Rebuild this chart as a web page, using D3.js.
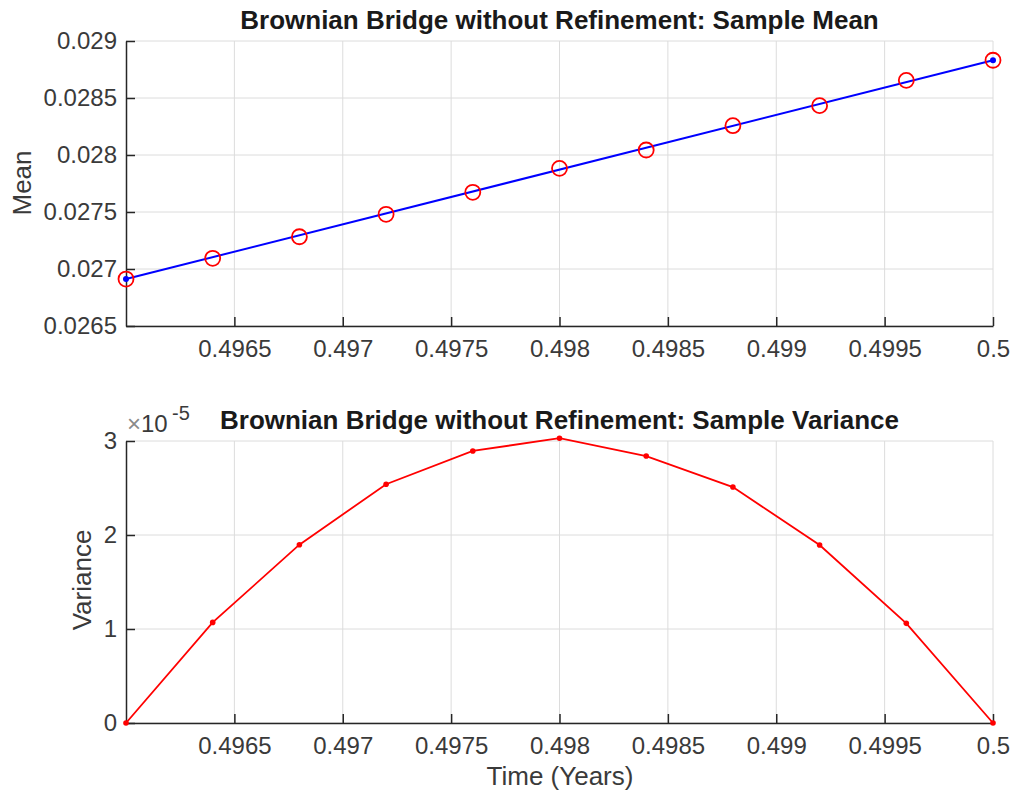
<!DOCTYPE html>
<html>
<head>
<meta charset="utf-8">
<script src="https://cdn.jsdelivr.net/npm/d3@7"></script>
<style>
  html, body { margin: 0; padding: 0; background: #fff; }
  svg { display: block; font-family: "Liberation Sans", Arial, Helvetica, sans-serif; }
</style>
</head>
<body>
<svg id="chart" width="1013" height="791"></svg>
<script>
// ---- data ----
const times = [0.496, 0.4964, 0.4968, 0.4972, 0.4976, 0.498, 0.4984, 0.4988, 0.4992, 0.4996, 0.5];
const sampleMean = [0.026912, 0.027094, 0.027283, 0.02748, 0.027673, 0.027883, 0.028044, 0.028257, 0.028433, 0.028655, 0.028831];
const bridgeEndTimes = [0.496, 0.5];
const bridgeEndMeans = [0.026912, 0.028831];
const sampleVariance = [0, 1.07e-5, 1.897e-5, 2.54e-5, 2.894e-5, 3.03e-5, 2.84e-5, 2.51e-5, 1.894e-5, 1.06e-5, 0];
const xTicks = [0.4965, 0.497, 0.4975, 0.498, 0.4985, 0.499, 0.4995, 0.5];
const xTickLabels = ["0.4965", "0.497", "0.4975", "0.498", "0.4985", "0.499", "0.4995", "0.5"];
const meanTicks = [0.0265, 0.027, 0.0275, 0.028, 0.0285, 0.029];
const meanTickLabels = ["0.0265", "0.027", "0.0275", "0.028", "0.0285", "0.029"];
const varTicks = [0, 1e-5, 2e-5, 3e-5];
const varTickLabels = ["0", "1", "2", "3"];

const svg = d3.select("#chart");
const axisColor = "#262626";
const gridColor = "#dcdcdc";
const textColor = "#3a3a3a";
const tickFont = 24;
const labelFont = 26;

const left = 126, right = 993;

function panel(top, bottom, yDomain, yTicks, yTickLabels, title) {
  const x = d3.scaleLinear().domain([0.496, 0.5]).range([left, right]);
  const y = d3.scaleLinear().domain(yDomain).range([bottom, top]);
  const g = svg.append("g");
  // grid
  g.append("g").selectAll("line").data(xTicks).join("line")
    .attr("x1", d => x(d)).attr("x2", d => x(d)).attr("y1", top).attr("y2", bottom)
    .attr("stroke", gridColor).attr("stroke-width", 1);
  g.append("g").selectAll("line").data(yTicks).join("line")
    .attr("x1", left).attr("x2", right).attr("y1", d => y(d)).attr("y2", d => y(d))
    .attr("stroke", gridColor).attr("stroke-width", 1);

  // axes
  const xAxis = d3.axisBottom(x).tickValues(xTicks).tickFormat((d, i) => xTickLabels[i])
    .tickSizeInner(-9).tickSizeOuter(0).tickPadding(14);
  const xa = g.append("g").attr("transform", `translate(0,${bottom})`).call(xAxis);
  const yAxis = d3.axisLeft(y).tickValues(yTicks).tickFormat((d, i) => yTickLabels[i])
    .tickSizeInner(-9).tickSizeOuter(0).tickPadding(9);
  const ya = g.append("g").attr("transform", `translate(${left},0)`).call(yAxis);
  [xa, ya].forEach(a => {
    a.select(".domain").attr("stroke", axisColor).attr("stroke-width", 1.5);
    a.selectAll(".tick line").attr("stroke", axisColor).attr("stroke-width", 1.5);
    a.selectAll(".tick text").attr("fill", textColor).attr("font-size", tickFont)
      .attr("font-family", "Liberation Sans, Arial, sans-serif");
  });

  // title
  g.append("text").attr("x", (left + right) / 2).attr("y", top - 12)
    .attr("text-anchor", "middle").attr("font-weight", "bold").attr("font-size", labelFont)
    .attr("fill", "#1a1a1a").text(title);
  return { x, y, g };
}

// ---- top panel ----
const p1 = panel(41, 326, [0.0265, 0.029], meanTicks, meanTickLabels,
  "Brownian Bridge without Refinement: Sample Mean");
p1.g.append("text").attr("transform", "translate(31,183) rotate(-90)")
  .attr("text-anchor", "middle").attr("font-size", labelFont).attr("fill", textColor).text("Mean");

const line1 = d3.line().x(d => p1.x(d[0])).y(d => p1.y(d[1]));
const bridge = bridgeEndTimes.map((t, i) => [t, bridgeEndMeans[i]]);
p1.g.append("path").datum(bridge).attr("d", line1).attr("fill", "none")
  .attr("stroke", "#0000ff").attr("stroke-width", 2);
p1.g.append("g").selectAll("circle").data(bridge).join("circle")
  .attr("cx", d => p1.x(d[0])).attr("cy", d => p1.y(d[1])).attr("r", 3).attr("fill", "#0000ff");
p1.g.append("g").selectAll("circle").data(times.map((t, i) => [t, sampleMean[i]])).join("circle")
  .attr("cx", d => p1.x(d[0])).attr("cy", d => p1.y(d[1])).attr("r", 7.5)
  .attr("fill", "none").attr("stroke", "#ff0000").attr("stroke-width", 1.8);

// ---- bottom panel ----
const p2 = panel(441, 723, [0, 3e-5], varTicks, varTickLabels,
  "Brownian Bridge without Refinement: Sample Variance");
p2.g.append("text").attr("transform", "translate(91,580) rotate(-90)")
  .attr("text-anchor", "middle").attr("font-size", labelFont).attr("fill", textColor).text("Variance");
p2.g.append("text").attr("x", 127).attr("y", 432).attr("font-size", tickFont).attr("fill", textColor)
  .append("tspan").attr("fill", "#8a8a8a").text("×")
  .select(function () { return this.parentNode; })
  .append("tspan").text("10");
p2.g.append("text").attr("x", 172).attr("y", 420).attr("font-size", 20).attr("fill", textColor)
  .text("-5");
p2.g.append("text").attr("x", 560).attr("y", 785).attr("text-anchor", "middle")
  .attr("font-size", labelFont).attr("fill", textColor).text("Time (Years)");

const line2 = d3.line().x(d => p2.x(d[0])).y(d => p2.y(d[1]));
const vdata = times.map((t, i) => [t, sampleVariance[i]]);
p2.g.append("path").datum(vdata).attr("d", line2).attr("fill", "none")
  .attr("stroke", "#ff0000").attr("stroke-width", 1.8);
p2.g.append("g").selectAll("circle").data(vdata).join("circle")
  .attr("cx", d => p2.x(d[0])).attr("cy", d => p2.y(d[1])).attr("r", 2.8).attr("fill", "#ff0000");
</script>
</body>
</html>
